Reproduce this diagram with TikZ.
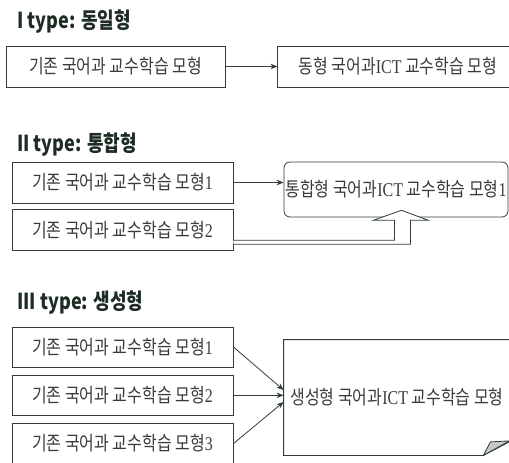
\documentclass[tikz,border=0pt]{standalone}
\usepackage{fontspec}
\setmainfont[FakeStretch=0.82]{Noto Sans CJK KR}
\newfontfamily\latnfont[FakeStretch=0.82]{Liberation Serif}
\newcommand\latn[1]{{\latnfont #1}}
\usetikzlibrary {arrows.meta,
                 positioning}
\definecolor{linegray}{RGB}{48,62,52}
\definecolor{textgray}{RGB}{55,62,55}
\definecolor{titlegreen}{RGB}{30,45,35}
\definecolor{foldgray}{RGB}{200,200,200}
\tikzset{
        base/.style={draw=linegray, line width=0.8pt, align=center, inner sep=0pt,
                     text=textgray, font=\fontsize{19.5}{22}\selectfont},
        model/.style={base, rectangle, minimum width=221pt, minimum height=41pt},
        merged/.style={base, rounded corners=6pt, minimum width=224pt,
                       minimum height=55pt},
        title/.style={anchor=west, inner sep=0pt, text=titlegreen,
                      font=\fontsize{22}{25}\selectfont\bfseries},
        myarrow/.style={-{Stealth[length=7pt,width=5.5pt]}, draw=linegray,
                        line width=0.8pt},
        blockarrow/.style={draw=linegray, line width=0.8pt, fill=white},
 }

\begin{document}
\begin{tikzpicture}[x=1pt, y=-1pt]
    \useasboundingbox (0,0) rectangle (509,463);

    % I type
    \node[title] (t1) at (17,22) {I type: 동일형};
    \node[model, minimum width=219pt] (ia) at (115.5,66.5) {기존 국어과 교수학습 모형};
    \node[model, minimum width=240pt, right=52pt of ia] (ib) {동형 국어과\latn{ICT} 교수학습 모형};
    \draw[myarrow] (ia.east) -- (ib.west);

    % II type
    \node[title] (t2) at (17,145) {II type: 통합형};
    \node[model] (iia) at (122.5,182.5) {기존 국어과 교수학습 모형\latn{1}};
    \node[model, below=6pt of iia] (iib) {기존 국어과 교수학습 모형\latn{2}};
    \node[merged] (iic) at (396,189.5) {통합형 국어과\latn{ICT} 교수학습 모형\latn{1}};
    \draw[myarrow] (iia.east) -- (iia.east -| iic.west);
    \draw[blockarrow] ([yshift=-14pt]iib.east) -- ++(177,0) -- ++(0,-24)
        -- ++(18,0) -- ++(-27,-10) -- ++(-28,10) -- ++(21,0) -- ++(0,20)
        -- ++(-161,0);

    % III type
    \node[title] (t3) at (17,303) {III type: 생성형};
    \node[model, minimum height=40pt] (iiia) at (122.5,347) {기존 국어과 교수학습 모형\latn{1}};
    \node[model, minimum height=40pt, below=7.5pt of iiia] (iiib) {기존 국어과 교수학습 모형\latn{2}};
    \node[model, minimum height=40pt, below=7.5pt of iiib] (iiic) {기존 국어과 교수학습 모형\latn{3}};
    \node[base, draw=none, minimum width=226pt, minimum height=115pt] (gen) at (397,397.5)
        {생성형 국어과\latn{ICT} 교수학습 모형};
    \draw[linegray, line width=0.8pt] (gen.north west) -- (gen.north east)
        -- ([yshift=14pt]gen.south east) -- ([xshift=-27pt]gen.south east)
        -- (gen.south west) -- cycle;
    \draw[linegray, line width=0.8pt, fill=foldgray] ([xshift=-27pt]gen.south east)
        -- ([xshift=-20pt, yshift=13.5pt]gen.south east)
        -- ([xshift=-1pt, yshift=14.5pt]gen.south east) -- cycle;

    \draw[myarrow] (iiia.east) -- ([yshift=7.5pt]gen.west);
    \draw[myarrow] (iiib.east) -- (iiib.east -| gen.west);
    \draw[myarrow] (iiic.east) -- ([yshift=-4.5pt]gen.west);
\end{tikzpicture}
\end{document}
